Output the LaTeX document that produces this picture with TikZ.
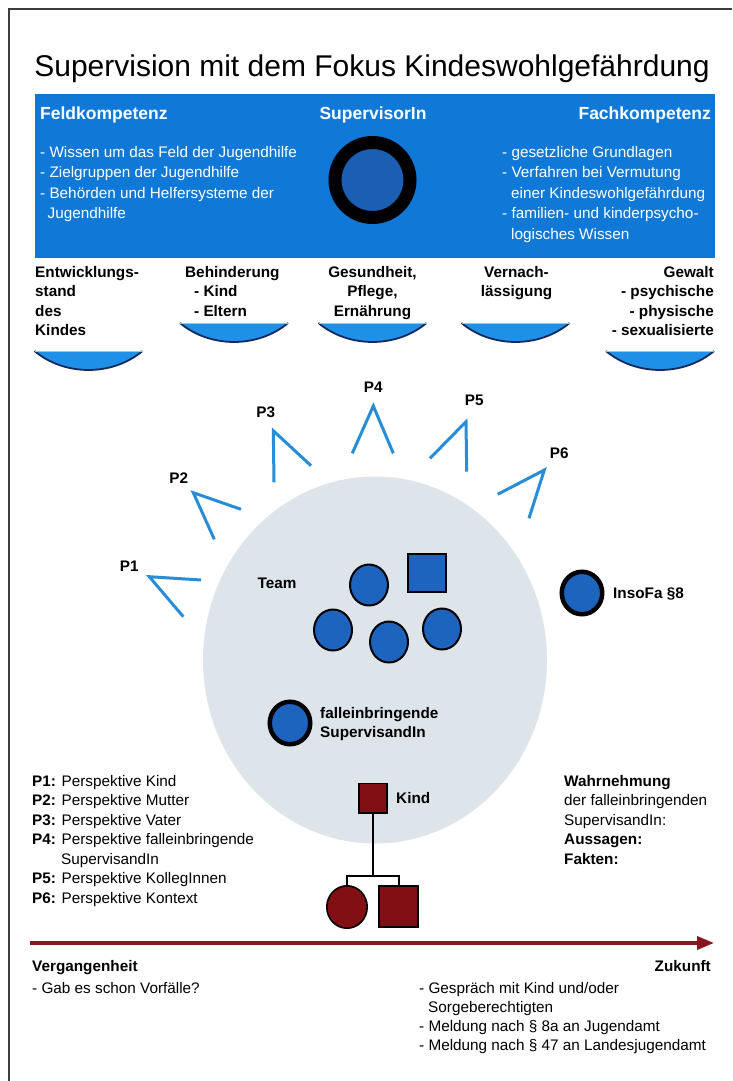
\documentclass[tikz,border=0pt]{standalone}
\usepackage{fontspec}
\setmainfont{Liberation Sans}
\usetikzlibrary{shapes.geometric,arrows.meta}

\definecolor{boxBlue}{RGB}{16,120,215}
\definecolor{ringBlue}{RGB}{26,95,180}
\definecolor{teamBlue}{RGB}{28,100,190}
\definecolor{chevBlue}{RGB}{40,140,215}
\definecolor{bowlBlue}{RGB}{30,144,232}
\definecolor{bowlRimBlue}{RGB}{20,40,90}
\definecolor{bowlTopBlue}{RGB}{140,200,240}
\definecolor{discGray}{RGB}{221,228,234}
\definecolor{kinRed}{RGB}{130,15,20}
\definecolor{arrowRed}{RGB}{140,20,30}
\definecolor{frameGray}{RGB}{60,60,60}

\tikzstyle{titleText} = [inner sep=0, font=\fontsize{30}{36}\selectfont]
\tikzstyle{headText} = [inner sep=0, text=white, font=\bfseries\fontsize{17.5}{21}\selectfont]
\tikzstyle{boxList} = [inner sep=0, text=white, align=left, font=\fontsize{15.3}{20.5}\selectfont]
\tikzstyle{bowlLabel} = [inner sep=0, font=\bfseries\fontsize{15.3}{19.5}\selectfont]
\tikzstyle{bodyText} = [inner sep=0, align=left, font=\fontsize{15.3}{19.5}\selectfont]
\tikzstyle{boldText} = [inner sep=0, font=\bfseries\fontsize{15.3}{19}\selectfont]
\tikzstyle{chevron} = [draw=chevBlue, line width=3pt]
\tikzstyle{bowlShape} = [fill=bowlBlue]
\tikzstyle{bowlRim} = [draw=bowlRimBlue, line width=1.8pt]
\tikzstyle{bowlTop} = [draw=bowlTopBlue, line width=0.8pt]
\tikzstyle{teamDot} = [ellipse, draw, line width=2pt, fill=teamBlue, minimum width=38pt, minimum height=41pt, inner sep=0]
\tikzstyle{ringDot} = [ellipse, draw, line width=4.5pt, fill=teamBlue, minimum width=40.5pt, minimum height=42.5pt, inner sep=0]
\tikzstyle{teamSquare} = [rectangle, draw, line width=2pt, fill=teamBlue, minimum size=38pt, inner sep=0]
\tikzstyle{kinSquare} = [rectangle, draw, line width=1.6pt, fill=kinRed, inner sep=0]
\tikzstyle{kinCircle} = [ellipse, draw, line width=1.6pt, fill=kinRed, inner sep=0]
\tikzstyle{kinLine} = [draw, line width=2pt]

\begin{document}
\begin{tikzpicture}[x=1pt, y=-1pt]
		\useasboundingbox (0,0) rectangle (732,1081);
		\path [draw=frameGray, line width=2pt] (9,1081) -- (9,9) -- (732,9);

		\node (title) [titleText, anchor=base] at (372,76) {Supervision mit dem Fokus Kindeswohlgefährdung};

		% blue competence band (multi-line nodes sit on their last baseline)
		\node (competenceBox) [fill=boxBlue, minimum width=680pt, minimum height=164pt, inner sep=0] at (375,175.5) {};
		\node (feldHead) [headText, anchor=base west] at (40,119.5) {Feldkompetenz};
		\node (supHead) [headText, anchor=base] at (373,119.5) {SupervisorIn};
		\node (fachHead) [headText, anchor=base east] at (711,119.5) {Fachkompetenz};
		\node (feldList) [boxList, anchor=base west] at (40,218.5) {- Wissen um das Feld der Jugendhilfe\\- Zielgruppen der Jugendhilfe\\- Behörden und Helfersysteme der\\\hspace*{7.5pt}Jugendhilfe};
		\node (fachList) [boxList, anchor=base west] at (502,239) {- gesetzliche Grundlagen\\- Verfahren bei Vermutung\\\hspace*{9pt}einer Kindeswohlgefährdung\\- familien- und kinderpsycho-\\\hspace*{9pt}logisches Wissen};
		\node (supervisor) [circle, draw=black, line width=13pt, fill=ringBlue, minimum size=75pt, inner sep=0] at (372.5,180) {};

		% risk areas with bowls
		\node (entwicklung) [bowlLabel, align=left, anchor=base west] at (35,335.5) {Entwicklungs-\\stand\\des\\Kindes};
		\node (behinderung) [bowlLabel, align=left, anchor=base west] at (185,316) {Behinderung\\\hspace*{9pt}- Kind\\\hspace*{9pt}- Eltern};
		\node (gesundheit) [bowlLabel, align=center, anchor=base] at (372.5,316) {Gesundheit,\\Pflege,\\Ernährung};
		\node (vernachlaessigung) [bowlLabel, align=center, anchor=base] at (516.5,296.5) {Vernach-\\lässigung};
		\node (gewalt) [bowlLabel, align=right, anchor=base east] at (714,335.5) {Gewalt\\- psychische\\- physische\\- sexualisierte};

		\path [bowlShape] (34.5,351) .. controls (64.5,376.3) and (112.5,376.3) .. (142.5,351) -- cycle;
		\path [bowlRim] (34.5,351) .. controls (64.5,376.3) and (112.5,376.3) .. (142.5,351);
		\path [bowlTop] (34.5,351) -- (142.5,351);
		\path [bowlShape] (180,323) .. controls (210,348.3) and (258,348.3) .. (288,323) -- cycle;
		\path [bowlRim] (180,323) .. controls (210,348.3) and (258,348.3) .. (288,323);
		\path [bowlTop] (180,323) -- (288,323);
		\path [bowlShape] (318.5,323) .. controls (348.5,348.3) and (396.5,348.3) .. (426.5,323) -- cycle;
		\path [bowlRim] (318.5,323) .. controls (348.5,348.3) and (396.5,348.3) .. (426.5,323);
		\path [bowlTop] (318.5,323) -- (426.5,323);
		\path [bowlShape] (461.5,323) .. controls (491.5,348.3) and (539.5,348.3) .. (569.5,323) -- cycle;
		\path [bowlRim] (461.5,323) .. controls (491.5,348.3) and (539.5,348.3) .. (569.5,323);
		\path [bowlTop] (461.5,323) -- (569.5,323);
		\path [bowlShape] (606,351) .. controls (636,376.3) and (684,376.3) .. (714,351) -- cycle;
		\path [bowlRim] (606,351) .. controls (636,376.3) and (684,376.3) .. (714,351);
		\path [bowlTop] (606,351) -- (714,351);

		% team disc
		\node (teamDisc) [ellipse, fill=discGray, minimum width=344pt, minimum height=367pt, inner sep=0] at (375,660) {};

		% perspectives
		\node (p1) [boldText] at (129.3,566.7) {P1};
		\node (p2) [boldText] at (178.7,477.7) {P2};
		\node (p3) [boldText] at (265.7,412.7) {P3};
		\node (p4) [boldText] at (373.3,387.3) {P4};
		\node (p5) [boldText] at (474.3,400.7) {P5};
		\node (p6) [boldText] at (559.3,453.3) {P6};
		\path [chevron] (201,580) -- (149.3,576.7) -- (183.3,616.7);
		\path [chevron] (241,509.3) -- (193.3,492.7) -- (214.3,539.3);
		\path [chevron] (274,482.3) -- (273.3,430.7) -- (311,465.7);
		\path [chevron] (352.3,453.3) -- (373.3,406) -- (393.3,453.3);
		\path [chevron] (430,458.3) -- (466,421.7) -- (466.7,471.7);
		\path [chevron] (497.7,494.3) -- (544.3,470) -- (529,518.3);

		\node (teamLabel) [boldText] at (277,583) {Team};
		\node (member1) [teamDot] at (369,585) {};
		\node (leader) [teamSquare] at (427,573) {};
		\node (member2) [teamDot] at (333,630) {};
		\node (member3) [teamDot] at (389,642) {};
		\node (member4) [teamDot] at (442,629) {};

		\node (insofa) [ringDot] at (582,593) {};
		\node (insofaLabel) [boldText, anchor=base west] at (613,598.5) {InsoFa §8};
		\node (supervisand) [ringDot] at (290,723) {};
		\node (supervisandLabel) [boldText, align=left, anchor=base west] at (320,737.5) {falleinbringende\\SupervisandIn};

		% genogram
		\node (kind) [kinSquare, minimum width=28.4pt, minimum height=29.4pt] at (373,798) {};
		\node (kindLabel) [boldText, anchor=base west] at (396,803.5) {Kind};
		\node (mother) [kinCircle, minimum width=40.4pt, minimum height=42.4pt] at (347,907) {};
		\node (father) [kinSquare, minimum width=39.4pt, minimum height=41.4pt] at (398.5,906.5) {};
		\coordinate (kinBar) at (373,876);
		\path [kinLine] (kind.south) -- (kinBar);
		\path [kinLine] (mother.north) |- (kinBar) -| (father.north);

		\node (perspList) [bodyText, anchor=base west] at (32,903) {\textbf{P1:} Perspektive Kind\\\textbf{P2:} Perspektive Mutter\\\textbf{P3:} Perspektive Vater\\\textbf{P4:} Perspektive falleinbringende\\\hspace*{29pt}SupervisandIn\\\textbf{P5:} Perspektive KollegInnen\\\textbf{P6:} Perspektive Kontext};
		\node (wahrnehmung) [bodyText, anchor=base west] at (564,864) {\textbf{Wahrnehmung}\\der falleinbringenden\\SupervisandIn:\\\textbf{Aussagen:}\\\textbf{Fakten:}};

		% time line
		\coordinate (pastEnd) at (30,943);
		\coordinate (futureEnd) at (714,943);
		\path [draw=arrowRed, line width=3.5pt, -{Triangle[length=17pt,width=13pt]}] (pastEnd) -- (futureEnd);
		\node (past) [boldText, anchor=base west] at (32,971.5) {Vergangenheit};
		\node (future) [boldText, anchor=base east] at (711,971.5) {Zukunft};
		\node (pastList) [bodyText, anchor=base west] at (32,993.5) {- Gab es schon Vorfälle?};
		\node (futureList) [bodyText, anchor=base west, font=\fontsize{15.3}{19}\selectfont] at (419,1050.5) {- Gespräch mit Kind und/oder\\\hspace*{9pt}Sorgeberechtigten\\- Meldung nach § 8a an Jugendamt\\- Meldung nach § 47 an Landesjugendamt};
	\end{tikzpicture}
\end{document}
